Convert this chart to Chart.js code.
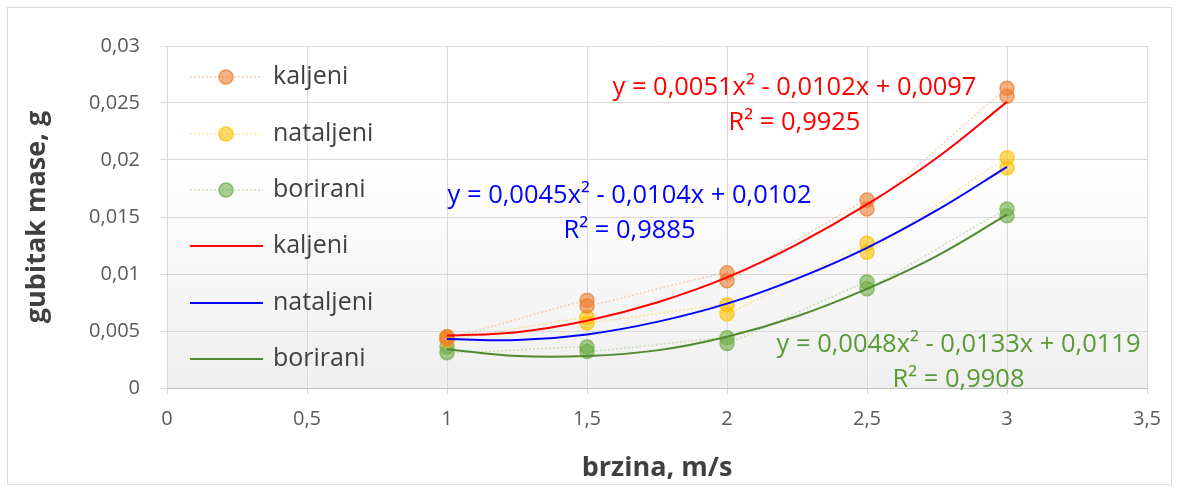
<!DOCTYPE html>
<html>
<head>
<meta charset="utf-8">
<script src="https://cdn.jsdelivr.net/npm/chart.js@4"></script>
<style>
  html, body { margin: 0; padding: 0; background: #fff; }
  #wrap { width: 1179px; height: 487px; position: relative; }
</style>
</head>
<body>
<div id="wrap"><canvas id="chart" width="1179" height="487"></canvas></div>
<script>
// measured points (two replicates per speed)
const speedX = [1, 1, 1.5, 1.5, 2, 2, 2.5, 2.5, 3, 3];
const kaljeni = [0.0045, 0.0043, 0.0077, 0.0072, 0.0101, 0.0094, 0.0165, 0.0157, 0.0263, 0.0256];
const nataljeni = [0.0045, 0.0042, 0.0062, 0.0057, 0.0073, 0.0065, 0.0127, 0.0119, 0.0202, 0.0193];
const borirani = [0.0036, 0.0031, 0.0036, 0.0032, 0.0044, 0.0039, 0.0093, 0.0087, 0.0157, 0.0151];

// trend curves
const trendX = [1, 1.25, 1.5, 1.75, 2, 2.25, 2.5, 2.75, 3];
const trendKaljeni = [0.0046, 0.0049, 0.0059, 0.0075, 0.0097, 0.0126, 0.0161, 0.0202, 0.0251];
const trendNataljeni = [0.0043, 0.0042, 0.0047, 0.0058, 0.0074, 0.0096, 0.0123, 0.0156, 0.0194];
const trendBorirani = [0.0034, 0.0028, 0.0028, 0.0033, 0.0045, 0.0063, 0.0087, 0.0116, 0.0152];

const seriesNames = ['kaljeni', 'nataljeni', 'borirani'];
const xTicks = [0, 0.5, 1, 1.5, 2, 2.5, 3, 3.5];
const yTicks = [0, 0.005, 0.01, 0.015, 0.02, 0.025, 0.03];

const equations = [
  { text: 'y = 0,0051x\u00b2 - 0,0102x + 0,0097', r2: 'R\u00b2 = 0,9925', x: 2.241, y: 0.0263, color: '#ff0000' },
  { text: 'y = 0,0045x\u00b2 - 0,0104x + 0,0102', r2: 'R\u00b2 = 0,9885', x: 1.652, y: 0.01684, color: '#0000ff' },
  { text: 'y = 0,0048x\u00b2 - 0,0133x + 0,0119', r2: 'R\u00b2 = 0,9908', x: 2.827, y: 0.00377, color: '#5a9a32' }
];

const FONT = '"Open Sans", sans-serif';

function pts(xs, ys) {
  return xs.map((x, i) => ({ x: x, y: ys[i] }));
}

function comma(v) {
  let s = (Math.round(v * 1000) / 1000).toString();
  return s.replace('.', ',');
}

function markerSet(label, ys, fill, border, lineColor) {
  return {
    label: label,
    data: pts(speedX, ys),
    showLine: true,
    borderColor: lineColor,
    borderWidth: 1.5,
    borderDash: [2, 2],
    tension: 0.3,
    pointRadius: 7,
    pointBackgroundColor: fill,
    pointBorderColor: border,
    pointBorderWidth: 1.5,
    order: 1
  };
}

function trendSet(label, ys, color) {
  return {
    label: label,
    data: pts(trendX, ys),
    showLine: true,
    borderColor: color,
    borderWidth: 2,
    tension: 0.4,
    pointRadius: 0,
    order: 0
  };
}

// background, frame, legend and equation labels
const decor = {
  id: 'decor',
  beforeDraw(chart) {
    const { ctx, chartArea: a } = chart;
    ctx.save();
    const g = ctx.createLinearGradient(0, a.top, 0, a.bottom);
    g.addColorStop(0, '#ffffff');
    g.addColorStop(0.35, '#ffffff');
    g.addColorStop(1, '#efefef');
    ctx.fillStyle = g;
    ctx.fillRect(a.left, a.top, a.right - a.left, a.bottom - a.top);
    ctx.strokeStyle = '#d9d9d9';
    ctx.lineWidth = 1;
    ctx.strokeRect(7.5, 7.5, 1164, 477);
    ctx.restore();
  },
  afterDraw(chart) {
    const { ctx } = chart;
    const xs = chart.scales.x, ys = chart.scales.y;
    ctx.save();
    // legend
    const rowY = [77, 134, 190, 246, 303, 359];
    chart.data.datasets.forEach((ds, i) => {
      const y = rowY[i];
      ctx.beginPath();
      ctx.strokeStyle = ds.borderColor;
      ctx.lineWidth = ds.borderWidth;
      ctx.setLineDash(ds.borderDash || []);
      ctx.moveTo(190, y);
      ctx.lineTo(263, y);
      ctx.stroke();
      ctx.setLineDash([]);
      if (ds.pointRadius > 0) {
        ctx.beginPath();
        ctx.arc(226, y, 7, 0, Math.PI * 2);
        ctx.fillStyle = ds.pointBackgroundColor;
        ctx.fill();
        ctx.strokeStyle = ds.pointBorderColor;
        ctx.lineWidth = 1.5;
        ctx.stroke();
      }
      ctx.fillStyle = '#404040';
      ctx.font = '25px ' + FONT;
      ctx.textAlign = 'left';
      ctx.textBaseline = 'middle';
      ctx.fillText(ds.label, 273, y);
    });
    // equations
    ctx.textAlign = 'center';
    ctx.font = '25.5px ' + FONT;
    equations.forEach(e => {
      const px = xs.getPixelForValue(e.x);
      const py = ys.getPixelForValue(e.y);
      ctx.fillStyle = e.color;
      ctx.fillText(e.text, px, py);
      ctx.fillText(e.r2, px, py + 35);
    });
    ctx.restore();
  }
};

new Chart(document.getElementById('chart'), {
  type: 'scatter',
  data: {
    datasets: [
      markerSet(seriesNames[0], kaljeni, 'rgba(237,125,49,0.6)', 'rgba(237,125,49,0.75)', 'rgba(244,177,131,0.6)'),
      markerSet(seriesNames[1], nataljeni, 'rgba(255,192,0,0.6)', 'rgba(255,192,0,0.75)', 'rgba(255,217,102,0.6)'),
      markerSet(seriesNames[2], borirani, 'rgba(112,173,71,0.6)', 'rgba(112,173,71,0.75)', 'rgba(169,209,142,0.6)'),
      trendSet(seriesNames[0], trendKaljeni, '#ff0000'),
      trendSet(seriesNames[1], trendNataljeni, '#0000ff'),
      trendSet(seriesNames[2], trendBorirani, '#4f8a2c')
    ]
  },
  options: {
    responsive: false,
    animation: false,
    layout: { padding: { top: 46, right: 32, left: 0, bottom: 0 } },
    plugins: { legend: { display: false }, tooltip: { enabled: false } },
    scales: {
      x: {
        type: 'linear',
        min: 0, max: 3.5,
        afterBuildTicks(s) { s.ticks = xTicks.map(v => ({ value: v })); },
        afterFit(s) { s.height = 99; },
        grid: { color: '#d9d9d9', tickLength: 7, drawTicks: true },
        border: { color: '#bfbfbf' },
        ticks: {
          padding: 12,
          color: '#595959',
          font: { family: FONT, size: 20 },
          callback: v => comma(v)
        },
        title: {
          display: true,
          text: 'brzina, m/s',
          color: '#404040',
          font: { family: FONT, size: 27, weight: 'bold' },
          padding: { top: 0, bottom: 2 }
        }
      },
      y: {
        type: 'linear',
        min: 0, max: 0.03,
        afterBuildTicks(s) { s.ticks = yTicks.map(v => ({ value: v })); },
        afterFit(s) { s.width = 167; },
        grid: { color: '#d9d9d9', tickLength: 7, drawTicks: true },
        border: { color: '#d9d9d9' },
        ticks: {
          padding: 20,
          color: '#595959',
          font: { family: FONT, size: 20 },
          callback: v => comma(v)
        },
        title: {
          display: true,
          text: 'gubitak mase, g',
          color: '#404040',
          font: { family: FONT, size: 27, weight: 'bold' },
          padding: { top: 21, bottom: 0 }
        }
      }
    }
  },
  plugins: [decor]
});
</script>
</body>
</html>
